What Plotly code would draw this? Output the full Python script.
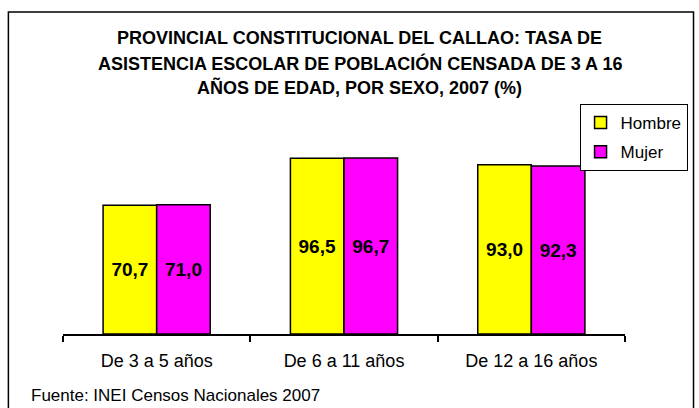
import plotly.graph_objects as go

categories = ["De 3 a 5 años", "De 6 a 11 años", "De 12 a 16 años"]
hombre = [70.7, 96.5, 93.0]
mujer = [71.0, 96.7, 92.3]
series_names = ["Hombre", "Mujer"]
title_lines = [
    "PROVINCIAL CONSTITUCIONAL DEL CALLAO: TASA DE",
    "ASISTENCIA ESCOLAR DE POBLACIÓN CENSADA DE 3 A 16",
    "AÑOS DE EDAD, POR SEXO, 2007 (%)",
]
source_text = "Fuente: INEI Censos Nacionales 2007"

FONT = "Liberation Sans, Arial, sans-serif"
W, H = 699, 408
ML, MR, MT, MB = 63, 70, 152, 74
PW = W - ML - MR
PH = H - MT - MB


def px_x(x):
    return (x - ML) / PW


def px_y(y):
    return (H - MB - y) / PH


fig = go.Figure()
for name, vals, color in [(series_names[0], hombre, "#FFFF00"), (series_names[1], mujer, "#FF00FF")]:
    fig.add_trace(go.Bar(
        name=name, x=categories, y=vals,
        marker=dict(color=color, line=dict(color="black", width=1.5)),
        texttemplate="<b>%{y:.1f}</b>", textposition="inside",
        insidetextanchor="middle", textangle=0,
        textfont=dict(family=FONT, size=19, color="black"),
        legendgroup=name,
    ))

annotations = []
title_y = [38, 63, 88]
for line, yy in zip(title_lines, title_y):
    annotations.append(dict(
        text=f"<b>{line}</b>", x=px_x(362), y=px_y(yy), xref="paper", yref="paper",
        xanchor="center", yanchor="middle", showarrow=False,
        font=dict(family=FONT, size=18, color="black"),
    ))
annotations.append(dict(
    text=source_text, x=px_x(29), y=px_y(395), xref="paper", yref="paper",
    xanchor="left", yanchor="middle", showarrow=False,
    font=dict(family=FONT, size=17, color="black"),
))

fig.update_layout(
    width=W, height=H,
    margin=dict(l=ML, r=MR, t=MT, b=MB),
    paper_bgcolor="white", plot_bgcolor="white",
    separators=",.",
    barmode="group", bargap=0.428, bargroupgap=0,
    font=dict(family=FONT, size=18, color="black"),
    showlegend=True,
    legend=dict(
        x=px_x(692), y=px_y(104), xanchor="right", yanchor="top",
        bgcolor="white", bordercolor="black", borderwidth=1,
        font=dict(family=FONT, size=17, color="black"),
        tracegroupgap=4,
    ),
    annotations=annotations,
    shapes=[dict(
        type="rect", xref="paper", yref="paper",
        x0=px_x(8), x1=px_x(698), y0=px_y(420), y1=px_y(12),
        line=dict(color="black", width=1.5), fillcolor="rgba(0,0,0,0)",
        layer="below",
    )],
)
fig.update_xaxes(
    showline=True, linecolor="black", linewidth=1.5,
    ticks="outside", tickson="boundaries", ticklen=6, tickcolor="black", tickwidth=1.5,
    ticklabelstandoff=10,
    tickfont=dict(family=FONT, size=18, color="black"),
    showgrid=False, zeroline=False,
)
fig.update_yaxes(range=[0, 100], visible=False, showgrid=False)

fig.write_html(
    "out.html",
    config={"displayModeBar": False},
    post_script="document.body.style.margin='0px';document.body.style.padding='0px';",
)
